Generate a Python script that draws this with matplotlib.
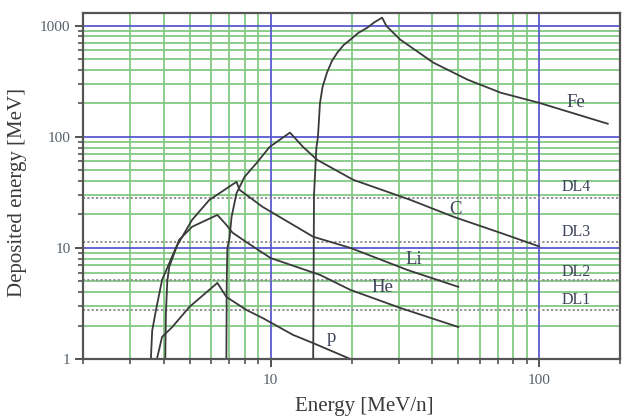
import numpy as np
import matplotlib
matplotlib.use('Agg')
import matplotlib.pyplot as plt
from matplotlib.ticker import LogLocator, NullFormatter, FixedLocator, FixedFormatter

# curve data: energy [MeV/n], deposited energy [MeV]
p_E = [3.77, 3.94, 4.30, 4.98, 6.33, 6.84, 8.13, 9.33, 12.1, 14.4, 19.8]
p_D = [1.0, 1.58, 1.94, 2.94, 4.84, 3.62, 2.76, 2.34, 1.65, 1.39, 1.0]

he_E = [4.05, 4.07, 4.12, 4.19, 4.56, 5.10, 6.33, 6.84, 7.21, 8.2, 10.0, 15.3, 19.8, 30.4, 50.0]
he_D = [1.0, 2.5, 5.0, 6.75, 11.8, 15.5, 19.8, 16.1, 13.7, 11.1, 8.1, 5.7, 4.19, 2.88, 1.94]

li_E = [3.58, 3.62, 3.74, 3.94, 4.45, 5.10, 5.91, 7.46, 7.66, 9.33, 14.4, 19.8, 32.3, 50.0]
li_D = [1.0, 1.8, 2.76, 5.15, 10.2, 17.9, 27.0, 39.3, 33.3, 23.4, 12.6, 10.0, 6.33, 4.46]

c_E = [6.84, 6.86, 6.9, 7.02, 7.15, 7.46, 7.99, 8.86, 9.91, 11.8, 13.2, 14.9, 20.3, 33.2, 48.1, 72.1, 100.0]
c_D = [1.0, 5.0, 10.0, 12.0, 19.0, 31.0, 43.5, 58.0, 81.0, 109.0, 81.0, 62.0, 41.0, 27.0, 19.0, 13.6, 10.3]

fe_E = [14.4, 14.5, 14.8, 15.0, 15.26, 15.6, 16.2, 16.9, 17.7, 18.7, 19.8, 21.2, 22.9, 24.3, 26.0,
        27.0, 30.4, 40.4, 54.2, 72.0, 100.0, 180.0]
fe_D = [1.0, 30.0, 80.0, 100.0, 200.0, 280.0, 377.0, 480.0, 571.0, 670.0, 748.0, 860.0, 959.0, 1070.0, 1181.0,
        990.0, 748.0, 464.0, 326.0, 249.0, 202.0, 131.0]

# detection levels
dl_names = ['DL1', 'DL2', 'DL3', 'DL4']
dl_values = [2.76, 5.15, 11.4, 28.2]
dl_text_y = [3.40, 6.08, 13.9, 35.3]

# curve labels
lab_names = ['Fe', 'C', 'Li', 'He', 'p']
lab_E = [137, 48.9, 34.0, 26.1, 16.9]
lab_D = [202, 22.0, 7.8, 4.36, 1.55]

plt.rcParams['font.family'] = ['Liberation Serif', 'DejaVu Serif']

fig = plt.figure(figsize=(6.23, 4.17), dpi=100)
ax = fig.add_axes([83/623, 1-359/417, (620-83)/623, (359-13)/417])
ax.set_xscale('log')
ax.set_yscale('log')
ax.set_xlim(2, 200)
ax.set_ylim(1, 1300)

green = '#85c985'
blue = '#5b5bd0'

# grid lines
for v in [3, 4, 5, 6, 7, 8, 9, 20, 30, 40, 50, 60, 70, 80, 90]:
    ax.axvline(v, color=green, lw=1.3, zorder=1)
for v in [10, 100]:
    ax.axvline(v, color=blue, lw=1.3, zorder=1.2)
for dec in [1, 10, 100]:
    for m in range(2, 10):
        ax.axhline(dec*m, color=green, lw=1.3, zorder=1)
for v in [10, 100, 1000]:
    ax.axhline(v, color=blue, lw=1.3, zorder=1.2)

for v in dl_values:
    ax.axhline(v, color='#8a8a8a', lw=1.3, ls=(0, (1.2, 1.2)), zorder=1.5)

curve_col = '#3a3a3a'
for E, D in [(p_E, p_D), (he_E, he_D), (li_E, li_D), (c_E, c_D), (fe_E, fe_D)]:
    ax.plot(E, D, color=curve_col, lw=1.3, zorder=3)

txt_col = '#3d4258'
for n, e, d in zip(lab_names, lab_E, lab_D):
    ax.text(e, d, n, fontsize=13.5, color=txt_col, ha='center', va='center', zorder=4)
for n, d in zip(dl_names, dl_text_y):
    ax.text(137, d, n, fontsize=11.5, color=txt_col, ha='center', va='center', zorder=4)

# ticks
ax.xaxis.set_major_locator(FixedLocator([10, 100]))
ax.xaxis.set_major_formatter(FixedFormatter(['10', '100']))
ax.xaxis.set_minor_locator(LogLocator(base=10, subs=np.arange(2, 10), numticks=20))
ax.xaxis.set_minor_formatter(NullFormatter())
ax.yaxis.set_major_locator(FixedLocator([1, 10, 100, 1000]))
ax.yaxis.set_major_formatter(FixedFormatter(['1', '10', '100', '1000']))
ax.yaxis.set_minor_locator(LogLocator(base=10, subs=np.arange(2, 10), numticks=20))
ax.yaxis.set_minor_formatter(NullFormatter())
ax.tick_params(which='major', direction='out', length=6, width=1.3, color='#444444',
               labelsize=11, labelcolor='#55606a', pad=3)
ax.tick_params(which='minor', direction='out', length=3.5, width=1.1, color='#444444')
ax.tick_params(axis='x', which='major', pad=5)

for s in ax.spines.values():
    s.set_color('#555555')
    s.set_linewidth(1.6)
    s.set_zorder(5)

ax.set_xlabel('Energy [MeV/n]', fontsize=15, color='#3a3a3a')
ax.set_ylabel('Deposited energy [MeV]', fontsize=15, color='#3a3a3a')
ax.xaxis.set_label_coords(0.523, -0.11)
ax.yaxis.set_label_coords(-0.105, 0.48)

fig.savefig('out.png', dpi=100)
